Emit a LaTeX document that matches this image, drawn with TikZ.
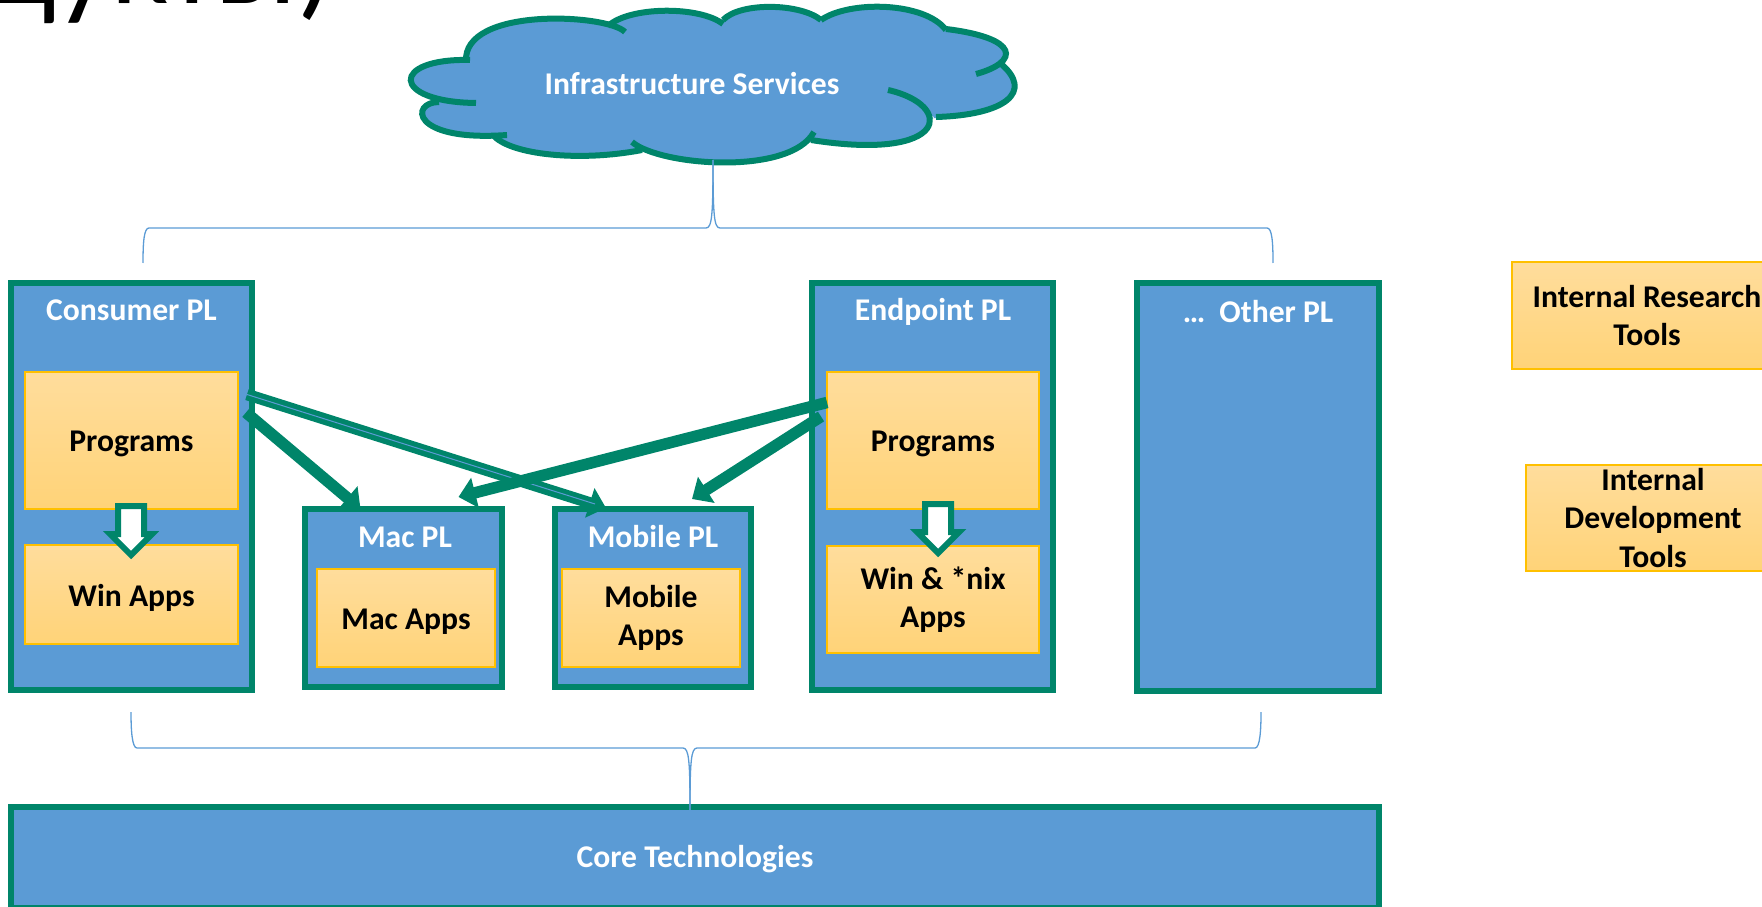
\documentclass[tikz,border=0pt]{standalone}
\usepackage{fontspec}
\setmainfont{Carlito}
\usetikzlibrary{calc, arrows.meta, shapes.arrows}

\definecolor{plgreen}{HTML}{00856A}
\definecolor{plblue}{HTML}{5B9BD5}
\definecolor{tooltop}{HTML}{FFDD9C}
\definecolor{toolbot}{HTML}{FFD378}
\definecolor{toolline}{HTML}{FFC000}

\tikzset{
    plbox/.style={draw=plgreen, fill=plblue, line width=0.06cm, inner sep=0, text=white, font=\fontsize{9}{11}\selectfont\bfseries},
    pllabel/.style={text=white, inner sep=0, font=\fontsize{9}{11}\selectfont\bfseries},
    toolbox/.style={draw=toolline, top color=tooltop, bottom color=toolbot, line width=0.02cm, inner sep=0, align=center, font=\fontsize{9}{11}\selectfont\bfseries},
    lowtext/.style={execute at begin node={\rule{0pt}{0.28cm}}},
    lowlines/.style={execute at begin node={\vspace*{0.06cm}}},
    flow/.style={draw=plgreen, line width=0.115cm, -{Triangle[length=0.17cm, width=0.3cm]}},
    brace/.style={draw=plblue, line width=0.013cm},
    downarrow/.style={single arrow, shape border rotate=270, draw=plgreen, fill=white, line width=0.06cm, inner sep=0.1cm, minimum height=0.49cm, minimum width=0.36cm, single arrow head extend=0.08cm}
}

\begin{document}
\begin{tikzpicture}[x=1cm, y=-1cm]
            \useasboundingbox (0, 0) rectangle (17.62, 9.07);
            \node[anchor=base west, inner sep=0, font=\fontsize{35}{38}\selectfont] (title) at (-0.13, 0.04) {дукты)};

            \def\lobes{
                4.66/0.62/4.62/0.06/6.08/0.14/6.25/0.32,
                6.08/0.26/6.30/0.06/7.00/0.06/7.23/0.24,
                7.23/0.20/7.40/0.02/8.00/0.03/8.21/0.20,
                8.21/0.20/8.50/0.00/9.25/0.02/9.46/0.30,
                9.46/0.29/10.20/0.38/10.20/0.62/9.76/0.74,
                10.00/0.63/10.35/0.92/10.05/1.15/9.36/1.17,
                8.88/0.90/9.55/1.05/9.50/1.62/8.11/1.40,
                8.14/1.32/7.90/1.76/6.60/1.66/6.32/1.42,
                6.42/1.50/5.80/1.62/5.10/1.55/4.93/1.35,
                5.07/1.35/4.10/1.42/4.10/1.02/4.39/1.02,
                4.76/1.03/3.90/1.02/3.90/0.58/4.70/0.60}
            \foreach \ax/\ay/\bx/\by/\cx/\cy/\dx/\dy in \lobes {
                \filldraw[plblue, line width=0.02cm] (\ax, \ay) .. controls (\bx, \by) and (\cx, \cy) .. (\dx, \dy) -- cycle;
            }
            \filldraw[plblue, line width=0.02cm] (4.66, 0.62) -- (6.25, 0.32) -- (6.08, 0.26) -- (7.23, 0.24) -- (7.23, 0.20) -- (8.21, 0.20) -- (9.46, 0.30) -- (9.46, 0.29) -- (9.76, 0.74) -- (10.00, 0.63) -- (9.36, 1.17) -- (8.88, 0.90) -- (8.11, 1.40) -- (8.14, 1.32) -- (6.32, 1.42) -- (6.42, 1.50) -- (4.93, 1.35) -- (5.07, 1.35) -- (4.39, 1.02) -- (4.76, 1.03) -- (4.70, 0.60) -- cycle;
            \foreach \ax/\ay/\bx/\by/\cx/\cy/\dx/\dy in \lobes {
                \draw[plgreen, line width=0.06cm] (\ax, \ay) .. controls (\bx, \by) and (\cx, \cy) .. (\dx, \dy);
            }
            \node[pllabel] (infra) at (6.92, 0.84) {Infrastructure Services};

            \node[plbox, minimum width=2.41cm, minimum height=4.07cm] (consumer) at (1.315, 4.865) {};
            \node[plbox, minimum width=1.97cm, minimum height=1.78cm] (mac) at (4.035, 5.98) {};
            \node[plbox, minimum width=1.96cm, minimum height=1.78cm] (mobile) at (6.53, 5.98) {};
            \node[plbox, minimum width=2.41cm, minimum height=4.07cm] (endpoint) at (9.325, 4.865) {};
            \node[plbox, minimum width=2.42cm, minimum height=4.08cm] (other) at (12.58, 4.87) {};
            \node[plbox, minimum width=13.68cm, minimum height=1.01cm] (core) at (6.95, 8.575) {};
            \node[pllabel] (coreT) at (6.95, 8.59) {Core Technologies};

            \node[pllabel] (consumerT) at (1.315, 3.10) {Consumer PL};
            \node[pllabel] (macT) at (4.05, 5.37) {Mac PL};
            \node[pllabel] (mobileT) at (6.53, 5.37) {Mobile PL};
            \node[pllabel] (endpointT) at (9.33, 3.12) {Endpoint PL};
            \node[pllabel] (otherT) at (12.58, 3.12) {…\hspace{2pt} Other PL};

            \node[toolbox, lowtext, minimum width=2.13cm, minimum height=1.37cm] (progC) at (1.315, 4.405) {Programs};
            \node[toolbox, lowtext, minimum width=2.13cm, minimum height=0.99cm] (winC) at (1.315, 5.945) {Win Apps};
            \node[toolbox, lowtext, minimum width=1.78cm, minimum height=0.98cm] (macA) at (4.06, 6.18) {Mac Apps};
            \node[toolbox, lowlines, minimum width=1.78cm, minimum height=0.98cm] (mobileA) at (6.51, 6.18) {Mobile\\Apps};
            \node[toolbox, lowtext, minimum width=2.12cm, minimum height=1.37cm] (progE) at (9.33, 4.405) {Programs};
            \node[toolbox, lowlines, minimum width=2.12cm, minimum height=1.07cm] (winE) at (9.33, 5.995) {Win \& *nix\\Apps};
            \node[toolbox, minimum width=2.70cm, minimum height=1.07cm] (research) at (16.47, 3.155) {Internal Research\\Tools};
            \node[toolbox, minimum width=2.54cm, minimum height=1.06cm] (devtools) at (16.53, 5.18) {Internal\\Development\\Tools};

            \draw[flow] ($(progC.east) + (0.07, -0.28)$) -- ($(mac.north) + (-0.43, 0.03)$);
            \draw[flow] ($(progC.east) + (0.08, -0.46)$) -- ($(mobile.north) + (-0.47, 0.02)$);
            \draw[plblue, line width=0.01cm] ($(progC.east) + (0.08, -0.46)$) -- ($(mobile.north) + (-0.58, -0.02)$);
            \draw[flow] ($(progE.west) + (0.01, -0.38)$) -- ($(mac.north) + (0.55, -0.09)$);
            \draw[flow] ($(progE.west) + (-0.05, -0.24)$) -- ($(mobile.north) + (0.39, -0.07)$);

            \foreach \x/\name/\y in {1.31/arrowC/5.24, 9.38/arrowE/5.22} {
                \node[downarrow] (\name) at (\x, \y) {};
            }

            \coordinate (cloudB) at (7.13, 1.60);
            \coordinate (upL) at (1.43, 2.63);
            \coordinate (upR) at (12.73, 2.63);
            \coordinate (coreB) at (6.90, 8.10);
            \coordinate (lowL) at (1.31, 7.12);
            \coordinate (lowR) at (12.61, 7.12);
            \draw[brace] (upL) .. controls (1.43, 2.42) and (1.44, 2.28) .. (1.49, 2.28) -- (7.06, 2.28) .. controls (7.12, 2.28) and (7.13, 2.15) .. (cloudB);
            \draw[brace] (upR) .. controls (12.73, 2.42) and (12.72, 2.28) .. (12.67, 2.28) -- (7.20, 2.28) .. controls (7.14, 2.28) and (7.13, 2.15) .. (cloudB);
            \draw[brace] (lowL) .. controls (1.31, 7.30) and (1.32, 7.48) .. (1.37, 7.48) -- (6.83, 7.48) .. controls (6.89, 7.48) and (6.90, 7.62) .. (coreB);
            \draw[brace] (lowR) .. controls (12.61, 7.30) and (12.60, 7.48) .. (12.55, 7.48) -- (6.97, 7.48) .. controls (6.91, 7.48) and (6.90, 7.62) .. (coreB);
        \end{tikzpicture}
\end{document}
